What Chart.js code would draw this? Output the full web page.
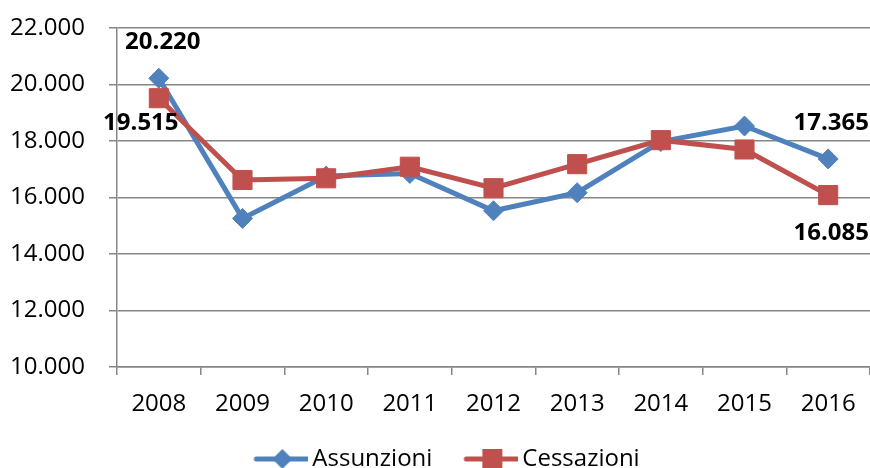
<!DOCTYPE html>
<html>
<head>
  <title>Assunzioni e Cessazioni</title>
  <meta charset="utf-8">
  <script src="https://cdn.jsdelivr.net/npm/chart.js"></script>
  <style>
    body { margin: 0; background: #fff; }
    .chart-container { position: relative; width: 870px; height: 468px; }
  </style>
</head>
<body>
  <div class="chart-container">
    <canvas id="line-chart"></canvas>
  </div>

  <script>
    const years = ['2008', '2009', '2010', '2011', '2012', '2013', '2014', '2015', '2016'];
    const assunzioni = [20220, 15260, 16760, 16850, 15530, 16170, 17980, 18530, 17365];
    const cessazioni = [19515, 16620, 16680, 17090, 16330, 17180, 18030, 17700, 16085];
    const yTicks = [10000, 12000, 14000, 16000, 18000, 20000, 22000];

    const blue = '#4F81BD';
    const red = '#C0504D';
    const fontFamily = '"Open Sans", sans-serif';
    const fontSize = 24;

    function formatIt(v) {
      return String(Math.round(v)).replace(/\B(?=(\d{3})+(?!\d))/g, '.');
    }

    // legend icon: line with marker, blank space on the left acts as item gap
    function legendIcon(color, shape) {
      const c = document.createElement('canvas');
      c.width = 86;
      c.height = 26;
      const ctx = c.getContext('2d');
      ctx.strokeStyle = color;
      ctx.fillStyle = color;
      ctx.lineWidth = 5;
      ctx.lineCap = 'round';
      ctx.beginPath();
      ctx.moveTo(34, 13);
      ctx.lineTo(85, 13);
      ctx.stroke();
      ctx.beginPath();
      if (shape === 'diamond') {
        ctx.moveTo(60, 3);
        ctx.lineTo(70, 13);
        ctx.lineTo(60, 23);
        ctx.lineTo(50, 13);
      } else {
        ctx.rect(50, 3, 20, 20);
      }
      ctx.closePath();
      ctx.fill();
      return c;
    }
    const icons = [legendIcon(blue, 'diamond'), legendIcon(red, 'square')];

    // bold value labels on first and last points
    const valueLabels = [
      { ds: 0, idx: 0, dx: 4, dy: -36 },
      { ds: 1, idx: 0, dx: -18, dy: 25 },
      { ds: 0, idx: 8, dx: 3, dy: -36 },
      { ds: 1, idx: 8, dx: 3, dy: 38 }
    ];

    const valueLabelPlugin = {
      id: 'valueLabels',
      beforeInit(chart) {
        // fixed legend height so it sits close to the bottom edge
        const fit = chart.legend.fit;
        chart.legend.fit = function () {
          fit.call(this);
          this.height = 29;
        };
      },
      afterDatasetsDraw(chart) {
        const ctx = chart.ctx;
        ctx.save();
        ctx.font = 'bold ' + fontSize + 'px ' + fontFamily;
        ctx.fillStyle = '#000';
        ctx.textAlign = 'center';
        ctx.textBaseline = 'middle';
        valueLabels.forEach(l => {
          const pt = chart.getDatasetMeta(l.ds).data[l.idx];
          const v = chart.data.datasets[l.ds].data[l.idx];
          ctx.fillText(formatIt(v), pt.x + l.dx, pt.y + l.dy);
        });
        ctx.restore();
      }
    };

    const chart = new Chart(document.getElementById('line-chart'), {
      type: 'line',
      data: {
        labels: years,
        datasets: [{
          label: 'Assunzioni',
          data: assunzioni,
          borderColor: blue,
          backgroundColor: blue,
          borderWidth: 5,
          pointStyle: 'rectRot',
          pointRadius: 10,
          pointBorderWidth: 1,
          pointHoverRadius: 10,
          order: 1
        }, {
          label: 'Cessazioni',
          data: cessazioni,
          borderColor: red,
          backgroundColor: red,
          borderWidth: 5,
          pointStyle: 'rect',
          pointRadius: 13.5,
          pointBorderWidth: 1,
          pointHoverRadius: 13.5,
          order: 0
        }]
      },
      options: {
        responsive: true,
        maintainAspectRatio: false,
        animation: false,
        layout: { autoPadding: false, padding: { top: 28, left: 0, right: 0, bottom: 0 } },
        scales: {
          x: {
            offset: true,
            afterFit(scale) {
              scale.paddingLeft = 0;
              scale.paddingRight = 0;
              scale.height = 72;
            },
            grid: {
              offset: true,
              drawOnChartArea: false,
              color: '#868686',
              lineWidth: 1.5,
              tickLength: 8
            },
            border: { color: '#868686', width: 1.5 },
            ticks: {
              color: '#000',
              padding: 15,
              font: { family: fontFamily, size: fontSize }
            }
          },
          y: {
            min: 10000,
            max: 22000,
            afterBuildTicks(axis) {
              axis.ticks = yTicks.map(v => ({ value: v }));
            },
            afterFit(scale) {
              scale.width = 117;
              scale.paddingTop = 0;
              scale.paddingBottom = 0;
            },
            grid: {
              color: '#868686',
              lineWidth: 1.5,
              tickLength: 8
            },
            border: { color: '#868686', width: 1.5 },
            ticks: {
              color: '#000',
              padding: 24,
              font: { family: fontFamily, size: fontSize },
              callback: v => formatIt(v)
            }
          }
        },
        plugins: {
          tooltip: { enabled: false },
          legend: {
            position: 'bottom',
            labels: {
              usePointStyle: true,
              pointStyleWidth: 70,
              padding: 8,
              color: '#000',
              font: { family: fontFamily, size: fontSize },
              sort: (a, b) => a.datasetIndex - b.datasetIndex,
              generateLabels(chart) {
                const items = Chart.defaults.plugins.legend.labels.generateLabels(chart);
                items.forEach(it => { it.pointStyle = icons[it.datasetIndex]; });
                return items;
              }
            }
          }
        }
      },
      plugins: [valueLabelPlugin]
    });
  </script>
</body>
</html>
